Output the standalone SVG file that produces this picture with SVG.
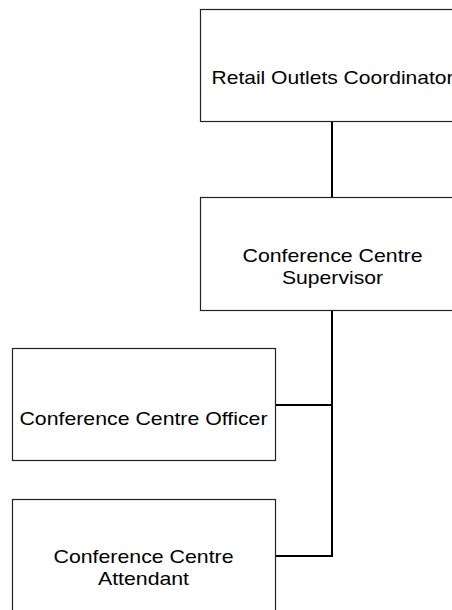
<svg xmlns="http://www.w3.org/2000/svg" width="452" height="610" viewBox="0 0 452 610">
<style>
.box{fill:#fff;stroke:#222;stroke-width:1.2}
.lbl{font-family:"Liberation Sans",Arial,sans-serif;font-size:19px;fill:#000;text-anchor:middle}
.conn{stroke:#000;stroke-width:2;fill:none}
</style>
<rect width="452" height="610" fill="#fff"/>
<g id="connectors">
<line class="conn" x1="332" y1="121" x2="332" y2="197"/>
<polyline class="conn" points="332,310 332,556 275,556"/>
<line class="conn" x1="275" y1="405" x2="332" y2="405"/>
</g>
<g id="n-retail">
<rect class="box" x="200.5" y="9.5" width="264" height="112"/>
<text class="lbl" x="332.5" y="84" textLength="242" lengthAdjust="spacingAndGlyphs">Retail Outlets Coordinator</text>
</g>
<g id="n-supervisor">
<rect class="box" x="200.5" y="197.5" width="264" height="113"/>
<text class="lbl" x="332.5" y="262" textLength="180" lengthAdjust="spacingAndGlyphs">Conference Centre</text>
<text class="lbl" x="332.5" y="284" textLength="101" lengthAdjust="spacingAndGlyphs">Supervisor</text>
</g>
<g id="n-officer">
<rect class="box" x="12.5" y="348.5" width="263" height="112"/>
<text class="lbl" x="143.5" y="425" textLength="248" lengthAdjust="spacingAndGlyphs">Conference Centre Officer</text>
</g>
<g id="n-attendant">
<rect class="box" x="12.5" y="499.5" width="263" height="113"/>
<text class="lbl" x="143.5" y="563" textLength="180" lengthAdjust="spacingAndGlyphs">Conference Centre</text>
<text class="lbl" x="143.5" y="585" textLength="91" lengthAdjust="spacingAndGlyphs">Attendant</text>
</g>
</svg>
